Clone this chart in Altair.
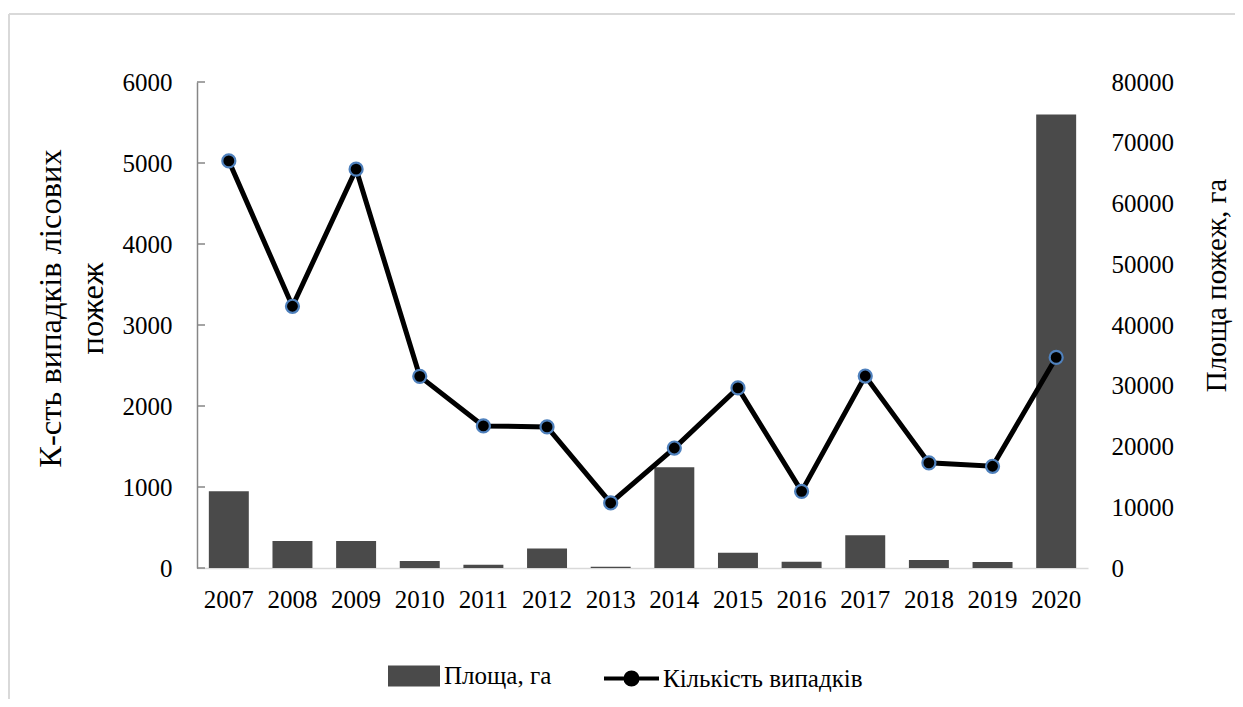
import altair as alt
import pandas as pd

years = ["2007", "2008", "2009", "2010", "2011", "2012", "2013",
         "2014", "2015", "2016", "2017", "2018", "2019", "2020"]
cases = [5026, 3231, 4924, 2366, 1754, 1742, 803, 1481, 2223, 946, 2370, 1298, 1256, 2600]
area = [12620, 4460, 4460, 1140, 540, 3210, 210, 16580, 2500, 1030, 5390, 1310, 980, 74630]
left_ticks = [0, 1000, 2000, 3000, 4000, 5000, 6000]
right_ticks = [0, 10000, 20000, 30000, 40000, 50000, 60000, 70000, 80000]
bar_name = "Площа, га"
line_name = "Кількість випадків"
left_title = ["К-сть випадків лісових", "пожеж"]
right_title = "Площа пожеж, га"

FONT = "Liberation Serif"

df = pd.DataFrame({"year": years, "cases": cases, "area": area,
                   "bar_series": bar_name, "line_series": line_name})
tick_df = pd.DataFrame({"cases": left_ticks})
frame_df = pd.DataFrame({"f": [0]})

x_enc = alt.X("year:N", sort=years,
              scale=alt.Scale(paddingInner=0.372, paddingOuter=0.186),
              axis=alt.Axis(title=None, labelAngle=0, ticks=False,
                            domainColor="#d9d9d9", domainWidth=1.5,
                            labelFontSize=25, labelPadding=19,
                            labelFont=FONT, labelColor="black"))

left_axis = alt.Axis(orient="left", values=left_ticks, title=left_title, format="d",
                     domainColor="#868686", domainWidth=1.5, ticks=False, grid=False,
                     labelFontSize=25, labelFont=FONT, labelColor="black",
                     labelPadding=25,
                     titleFont=FONT, titleFontSize=32.5, titleFontWeight="normal",
                     titleColor="black", titleAngle=270, titleX=-147, titleY=226,
                     titleAlign="center", titleBaseline="middle", titleLineHeight=42)
left_scale = alt.Scale(domain=[0, 6000])

frame_top = alt.Chart(frame_df).mark_rule(color="#d9d9d9", strokeWidth=2).encode(
    x=alt.value(-188), x2=alt.value(1100), y=alt.value(-68),
)
frame_left = alt.Chart(frame_df).mark_rule(color="#d9d9d9", strokeWidth=2).encode(
    x=alt.value(-188), y=alt.value(-68), y2=alt.value(700),
)

bars = alt.Chart(df).mark_bar().encode(
    x=x_enc,
    y=alt.Y("area:Q", scale=alt.Scale(domain=[0, 80000]),
            axis=alt.Axis(orient="right", values=right_ticks, title=right_title, format="d",
                          domain=False, ticks=False, grid=False,
                          labelFontSize=25, labelFont=FONT, labelColor="black",
                          labelPadding=23, labelAlign="left",
                          titleFont=FONT, titleFontSize=29, titleFontWeight="normal",
                          titleColor="black", titleAngle=270, titleX=128, titleY=203,
                          titleAlign="center", titleBaseline="middle")),
    fill=alt.Fill("bar_series:N", scale=alt.Scale(domain=[bar_name], range=["#4a4a4a"]),
                  legend=alt.Legend(title=None, orient="none", legendX=191, legendY=568,
                                    symbolType="M-1,-0.4H1V0.4H-1Z", symbolSize=2704,
                                    symbolStrokeWidth=0, labelFont=FONT, labelFontSize=25,
                                    labelColor="black", labelOffset=4, labelLimit=400)),
)

line = alt.Chart(df).mark_line(strokeWidth=5).encode(
    x=x_enc,
    y=alt.Y("cases:Q", scale=left_scale, axis=left_axis),
    stroke=alt.Stroke("line_series:N", scale=alt.Scale(domain=[line_name], range=["black"]),
                      legend=alt.Legend(title=None, orient="none", legendX=405, legendY=567,
                                        symbolType="M-1,0H-0.22M0.22,0H1M0.22,0A0.22,0.22 0 1,1 -0.22,0A0.22,0.22 0 1,1 0.22,0",
                                        symbolSize=3025, symbolStrokeWidth=4,
                                        symbolFillColor="black",
                                        labelFont=FONT, labelFontSize=25,
                                        labelColor="black", labelOffset=2, labelLimit=400)),
)

points = alt.Chart(df).mark_circle(size=170, fill="black", stroke="#4f81bd",
                                   strokeWidth=2.2, opacity=1).encode(
    x=x_enc,
    y=alt.Y("cases:Q", scale=left_scale, axis=left_axis),
)

tick_marks = alt.Chart(tick_df).mark_rule(color="#868686", strokeWidth=1.5).encode(
    y=alt.Y("cases:Q", scale=left_scale, axis=left_axis),
    x=alt.value(0),
    x2=alt.value(8),
)

left_layer = alt.layer(line, points, tick_marks)

chart = alt.layer(frame_top, frame_left, bars, left_layer).resolve_scale(
    y="independent", fill="independent", stroke="independent"
).properties(
    width=891, height=486,
    autosize=alt.AutoSizeParams(type="none"),
    padding={"left": 189, "top": 74, "right": 147, "bottom": 131},
).configure_view(stroke=None).configure_axis(grid=False)

chart.save("out.html", embed_options={"renderer": "svg", "actions": False})
